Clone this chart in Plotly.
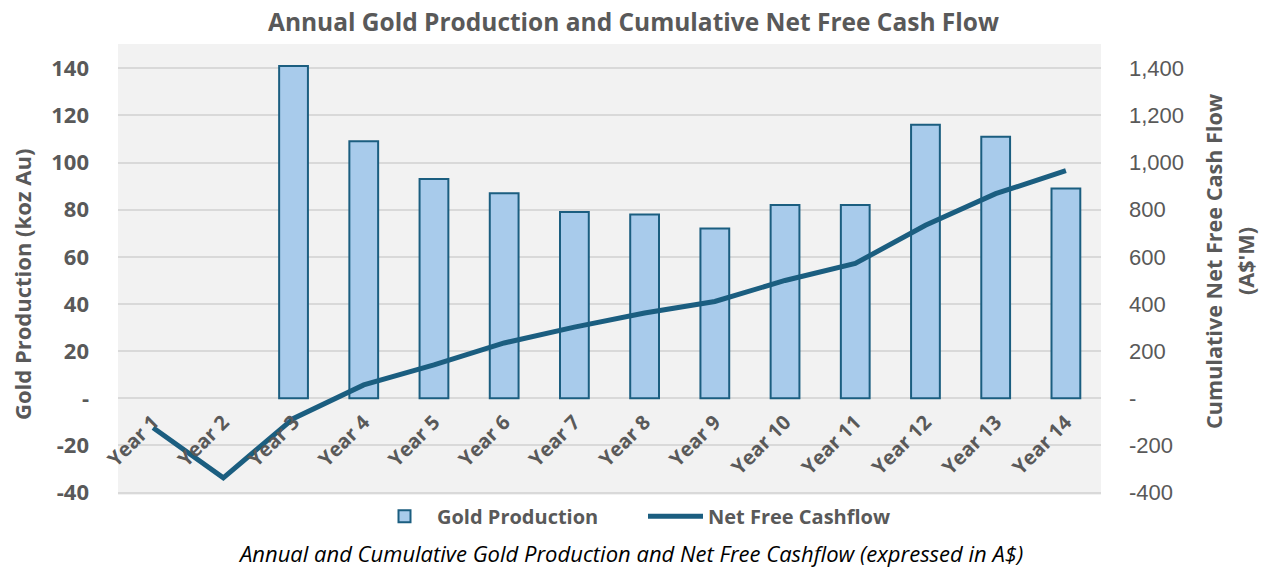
import plotly.graph_objects as go

categories = ["Year 1", "Year 2", "Year 3", "Year 4", "Year 5", "Year 6", "Year 7",
              "Year 8", "Year 9", "Year 10", "Year 11", "Year 12", "Year 13", "Year 14"]
gold_production = [None, None, 141, 109, 93, 87, 79, 78, 72, 82, 82, 116, 111, 89]
net_free_cashflow = [-125, -337, -85, 57, 142, 235, 302, 362, 411, 500, 572, 734, 868, 966]

left_tickvals = [-40, -20, 0, 20, 40, 60, 80, 100, 120, 140]
left_ticktext = ["-40", "-20", "-", "20", "40", "60", "80", "100", "120", "140"]
right_tickvals = [-400, -200, 0, 200, 400, 600, 800, 1000, 1200, 1400]
right_ticktext = ["-400", "-200", "-", "200", "400", "600", "800", "1,000", "1,200", "1,400"]

FONT = "Open Sans"
GREY = "#595959"
BAR_FILL = "#a8cbeb"
DARK = "#1b5e80"

fig = go.Figure()
fig.add_trace(go.Bar(
    x=categories, y=gold_production, name="Gold Production",
    marker=dict(color=BAR_FILL, line=dict(color=DARK, width=2)),
    width=0.41, yaxis="y",
))
fig.add_trace(go.Scatter(
    x=categories, y=net_free_cashflow, name="Net Free Cashflow",
    mode="lines", line=dict(color=DARK, width=5), yaxis="y2",
))

fig.update_layout(
    width=1263, height=567,
    margin=dict(l=118, r=162, t=44, b=72, autoexpand=False),
    paper_bgcolor="white", plot_bgcolor="#f2f2f2",
    font=dict(family=FONT, color=GREY),
    showlegend=True,
    legend=dict(orientation="h", x=(372 - 118) / 983, xanchor="left", y=-0.047, yanchor="middle",
                font=dict(family=FONT, size=20, color=GREY, weight="bold"),
                itemwidth=55, entrywidth=201, entrywidthmode="pixels",
                bgcolor="rgba(0,0,0,0)", traceorder="normal"),
    xaxis=dict(anchor="free", position=0.2113, tickangle=-45, showgrid=False,
               showline=False, zeroline=False, ticks="", ticklabelstandoff=6,
               tickfont=dict(family=FONT, size=20, color=GREY, weight="bold"),
               range=[-0.5, 13.5], automargin=False),
    yaxis=dict(range=[-41, 150.3], tickvals=left_tickvals, ticktext=left_ticktext,
               showgrid=True, gridcolor="#d9d9d9", gridwidth=2, zeroline=False,
               ticks="", ticklabelstandoff=28, automargin=False,
               tickfont=dict(family=FONT, size=22, color=GREY, weight="bold")),
    yaxis2=dict(range=[-410, 1503], tickvals=right_tickvals, ticktext=right_ticktext,
                overlaying="y", side="right", showgrid=False, zeroline=False,
                ticks="", ticklabelstandoff=27, automargin=False,
                tickfont=dict(family="Liberation Sans", size=22, color=GREY)),
)

fig.add_annotation(text="Annual Gold Production and Cumulative Net Free Cash Flow",
                   xref="paper", yref="paper", x=(633 - 118) / 983, y=(495 - 22) / 451,
                   xanchor="center", yanchor="middle", showarrow=False,
                   font=dict(family=FONT, size=24.5, color=GREY, weight="bold"))
fig.add_annotation(text="Gold Production (koz Au)", textangle=-90,
                   xref="paper", yref="paper", x=(22 - 118) / 983, y=(495 - 285) / 451,
                   xanchor="center", yanchor="middle", showarrow=False,
                   font=dict(family=FONT, size=22, color=GREY, weight="bold"))
fig.add_annotation(text="Cumulative Net Free Cash Flow", textangle=-90,
                   xref="paper", yref="paper", x=(1213 - 118) / 983, y=(495 - 261) / 451,
                   xanchor="center", yanchor="middle", showarrow=False,
                   font=dict(family=FONT, size=21.6, color=GREY, weight="bold"))
fig.add_annotation(text="(A$'M)", textangle=-90,
                   xref="paper", yref="paper", x=(1245 - 118) / 983, y=(495 - 261) / 451,
                   xanchor="center", yanchor="middle", showarrow=False,
                   font=dict(family=FONT, size=21.6, color=GREY, weight="bold"))
fig.add_annotation(text="<i>Annual and Cumulative Gold Production and Net Free Cashflow (expressed in A$)</i>",
                   xref="paper", yref="paper", x=(630 - 118) / 983, y=(495 - 553) / 451,
                   xanchor="center", yanchor="middle", showarrow=False,
                   font=dict(family=FONT, size=22, color="black"))

fig.write_html("out.html", config={"displayModeBar": False},
               post_script="document.body.style.margin='0';")
